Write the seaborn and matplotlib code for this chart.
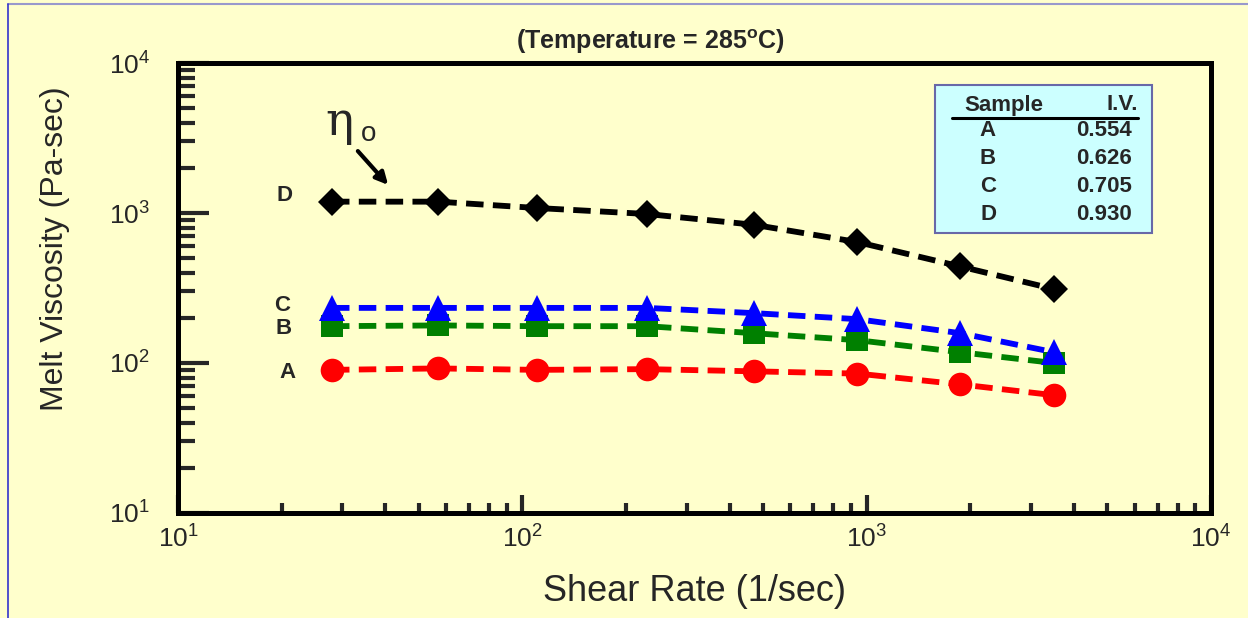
import numpy as np
import pandas as pd
import matplotlib
matplotlib.use("Agg")
import matplotlib.pyplot as plt
import seaborn as sns
from matplotlib.ticker import LogLocator, LogFormatterMathtext, NullFormatter
from matplotlib.lines import Line2D
from matplotlib.patches import Rectangle

# ---- data ----
shear_rate = [28, 57, 110, 230, 470, 940, 1870, 3500]
visc_A = [90, 92, 90, 91, 88, 85, 72, 61]
visc_B = [176, 178, 176, 176, 158, 142, 118, 100]
visc_C = [233, 233, 233, 233, 215, 196, 158, 118]
visc_D = [1190, 1190, 1080, 985, 835, 640, 440, 311]
samples = ["A", "B", "C", "D"]
iv_values = ["0.554", "0.626", "0.705", "0.930"]
colors = {"A": "#FF0000", "B": "#008000", "C": "#0000FF", "D": "#000000"}
markers = {"A": "o", "B": "s", "C": "^", "D": "D"}
msizes = {"A": 17, "B": 16, "C": 19, "D": 14}

df = pd.DataFrame({
    "rate": shear_rate * 4,
    "visc": visc_A + visc_B + visc_C + visc_D,
    "sample": sum([[s] * len(shear_rate) for s in samples], []),
})

sns.set_style("ticks")
plt.rcParams["font.family"] = ["Liberation Sans", "DejaVu Sans"]
plt.rcParams["mathtext.fontset"] = "custom"
plt.rcParams["mathtext.rm"] = "Liberation Sans"
plt.rcParams["mathtext.it"] = "Liberation Sans:italic"
plt.rcParams["mathtext.bf"] = "Liberation Sans:bold"

bg = "#FFFFCC"
fig = plt.figure(figsize=(12.48, 6.18), dpi=100, facecolor=bg)
ax = fig.add_axes([178 / 1248, 1 - 513 / 618, (1211 - 178) / 1248, (513 - 63) / 618])
ax.set_facecolor(bg)

for s in samples:
    sub = df[df["sample"] == s]
    sns.lineplot(data=sub, x="rate", y="visc", ax=ax, color=colors[s],
                 linewidth=4.2, linestyle=(0, (3.0, 1.6)), marker=markers[s],
                 markersize=msizes[s], markeredgewidth=0, markerfacecolor=colors[s],
                 legend=False, estimator=None)

ax.set_xscale("log")
ax.set_yscale("log")
ax.set_xlim(10, 1e4)
ax.set_ylim(10, 1e4)
for sp in ax.spines.values():
    sp.set_linewidth(3.6)
    sp.set_color("black")
    sp.set_visible(True)

ax.xaxis.set_major_locator(LogLocator(base=10, numticks=10))
ax.yaxis.set_major_locator(LogLocator(base=10, numticks=10))
ax.xaxis.set_minor_locator(LogLocator(base=10, subs=np.arange(2, 10), numticks=10))
ax.yaxis.set_minor_locator(LogLocator(base=10, subs=np.arange(2, 10), numticks=10))
ax.xaxis.set_major_formatter(LogFormatterMathtext())
ax.yaxis.set_major_formatter(LogFormatterMathtext())
ax.xaxis.set_minor_formatter(NullFormatter())
ax.yaxis.set_minor_formatter(NullFormatter())
ax.tick_params(axis="x", which="major", direction="in", length=13, width=3, pad=9,
               labelsize=19, top=False)
ax.tick_params(axis="x", which="minor", direction="in", length=7, width=3, top=False)
ax.tick_params(axis="y", which="major", direction="in", length=22, width=3, pad=20,
               labelsize=19, right=False)
ax.tick_params(axis="y", which="minor", direction="in", length=12, width=3, right=False)

ax.set_xlabel("Shear Rate (1/sec)", fontsize=26)
ax.set_ylabel("Melt Viscosity (Pa-sec)", fontsize=23)
ax.xaxis.set_label_coords(0.5, (513 - 574) / 450)
ax.yaxis.set_label_coords((70 - 178) / 1033, (513 - 249) / 450)

fig.text(650 / 1248, 1 - 42 / 618, r"(Temperature = 285$^{\mathbf{o}}$C)", fontsize=18,
         fontweight="bold", ha="center", va="center")

# series labels
label_pos = {"D": (285, 195), "C": (282, 305), "B": (284, 328), "A": (288, 372)}
for s, (px, py) in label_pos.items():
    fig.text(px / 1248, 1 - py / 618, s, fontsize=16, fontweight="bold",
             ha="center", va="center")

# eta_o annotation
fig.text(339 / 1248, 1 - 122 / 618, "\u03b7", fontsize=34, ha="center", va="center",
         family="DejaVu Serif")
fig.text(369 / 1248, 1 - 134 / 618, "o", fontsize=20, ha="center", va="center")
ax.annotate("", xy=(390 / 1248, 1 - 187 / 618), xycoords="figure fraction",
            xytext=(356 / 1248, 1 - 149 / 618), textcoords="figure fraction",
            arrowprops=dict(arrowstyle="-|>", color="black", lw=3, mutation_scale=18))

# I.V. table
box = Rectangle((935 / 1248, 1 - 233 / 618), (1152 - 935) / 1248, (233 - 85) / 618,
                transform=fig.transFigure, facecolor="#CCFFFF", edgecolor="#6868A8",
                linewidth=1.5, zorder=5)
fig.patches.append(box)
fig.text(1004 / 1248, 1 - 105 / 618, "Sample", fontsize=16, fontweight="bold",
         ha="center", va="center", zorder=6)
fig.text(1138 / 1248, 1 - 105 / 618, "I.V.", fontsize=16, fontweight="bold",
         ha="right", va="center", zorder=6)
fig.add_artist(Line2D([952 / 1248, 1138 / 1248], [1 - 118 / 618, 1 - 118 / 618],
                      transform=fig.transFigure, color="black", lw=2.2, zorder=6))
row_y = [131, 159, 187, 214]
for s, v, yy in zip(samples, iv_values, row_y):
    fig.text(988 / 1248, 1 - yy / 618, s, fontsize=16, fontweight="bold",
             ha="center", va="center", zorder=6)
    fig.text(1132 / 1248, 1 - yy / 618, v, fontsize=16, fontweight="bold",
             ha="right", va="center", zorder=6)

# figure border lines (top and left)
fig.add_artist(Line2D([8 / 1248, 1.0], [1 - 4 / 618, 1 - 4 / 618], transform=fig.transFigure,
                      color="#9999CC", lw=1.5))
fig.add_artist(Line2D([8 / 1248, 8 / 1248], [0, 1 - 4 / 618], transform=fig.transFigure,
                      color="#3333CC", lw=1.2))

fig.savefig("out.png", dpi=100, facecolor=bg)
